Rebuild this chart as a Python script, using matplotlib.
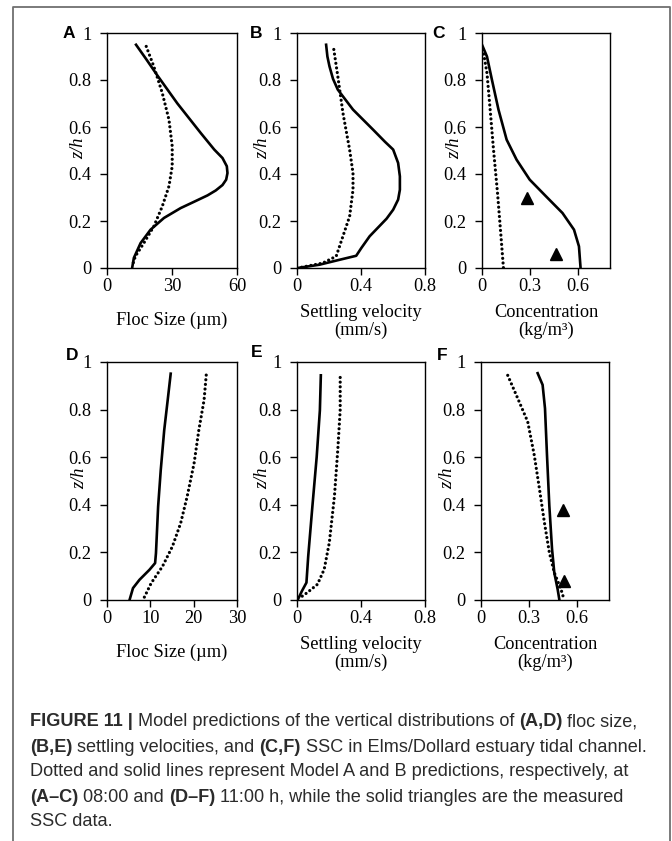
import matplotlib
matplotlib.use("Agg")
import matplotlib.pyplot as plt
from matplotlib.lines import Line2D
from matplotlib.ticker import FuncFormatter

W, H = 672, 841

# vertical position of each profile point (z/h) and the value at it
# panel A - floc size at 08:00
a_solid_x = [13.4, 18.0, 23.2, 32.5, 43.3, 49.5, 53.3, 55.3, 55.6, 55.0, 53.3, 50.2, 46.4,
             40.0, 34.0, 26.3, 20.1, 15.5, 12.4, 11.6]
a_solid_z = [0.95, 0.89, 0.82, 0.70, 0.574, 0.504, 0.468, 0.433, 0.404, 0.376, 0.353, 0.330, 0.309,
             0.281, 0.255, 0.213, 0.163, 0.106, 0.043, 0.0]
a_dot_x = [18.1, 21.6, 25.5, 28.6, 30.1, 30.1, 28.6, 25.5, 21.6, 17.0, 13.1, 11.6]
a_dot_z = [0.943, 0.858, 0.745, 0.631, 0.518, 0.433, 0.348, 0.262, 0.177, 0.106, 0.05, 0.007]

# panel B - settling velocity at 08:00
b_solid_x = [0.182, 0.19, 0.203, 0.225, 0.255, 0.35, 0.475, 0.55, 0.601, 0.632, 0.643, 0.643, 0.632,
             0.601, 0.56, 0.454, 0.402, 0.37, 0.266, 0.14, 0.004]
b_solid_z = [0.95, 0.90, 0.858, 0.805, 0.759, 0.674, 0.589, 0.537, 0.504, 0.447, 0.39, 0.333, 0.291,
             0.248, 0.21, 0.135, 0.085, 0.052, 0.035, 0.014, 0.0]
b_dot_x = [0.23, 0.255, 0.287, 0.329, 0.35, 0.35, 0.329, 0.287, 0.245, 0.161, 0.057, 0.004]
b_dot_z = [0.93, 0.816, 0.66, 0.503, 0.404, 0.333, 0.22, 0.135, 0.05, 0.021, 0.007, 0.0]

# panel C - concentration at 08:00
c_solid_x = [0.0, 0.031, 0.062, 0.103, 0.154, 0.216, 0.298, 0.40, 0.503, 0.575, 0.606, 0.616]
c_solid_z = [0.95, 0.90, 0.801, 0.674, 0.546, 0.461, 0.376, 0.305, 0.234, 0.163, 0.092, 0.0]
c_dot_x = [0.006, 0.031, 0.051, 0.072, 0.097, 0.117, 0.134]
c_dot_z = [0.93, 0.83, 0.674, 0.503, 0.319, 0.149, 0.0]
c_meas_x = [0.28, 0.46]
c_meas_z = [0.30, 0.06]

# panel D - floc size at 11:00
d_solid_x = [14.7, 14.0, 13.2, 12.4, 11.8, 11.3, 11.1, 9.8, 7.5, 6.0, 5.2]
d_solid_z = [0.951, 0.839, 0.713, 0.545, 0.393, 0.197, 0.155, 0.127, 0.085, 0.05, 0.0]
d_dot_x = [22.9, 22.4, 21.2, 20.1, 18.5, 17.0, 15.1, 12.8, 10.2, 8.3]
d_dot_z = [0.945, 0.84, 0.715, 0.575, 0.435, 0.323, 0.225, 0.141, 0.071, 0.0]

# panel E - settling velocity at 11:00
e_solid_x = [0.149, 0.143, 0.123, 0.096, 0.070, 0.059, 0.031, 0.004]
e_solid_z = [0.944, 0.797, 0.601, 0.392, 0.183, 0.073, 0.038, 0.0]
e_dot_x = [0.27, 0.27, 0.255, 0.234, 0.202, 0.17, 0.128, 0.064, 0.02]
e_dot_z = [0.935, 0.8, 0.632, 0.436, 0.241, 0.129, 0.066, 0.031, 0.01]

# panel F - concentration at 11:00
f_solid_x = [0.354, 0.385, 0.40, 0.4125, 0.427, 0.444, 0.458, 0.479, 0.49]
f_solid_z = [0.953, 0.904, 0.805, 0.608, 0.397, 0.214, 0.115, 0.045, 0.0]
f_dot_x = [0.167, 0.229, 0.292, 0.333, 0.365, 0.396, 0.427, 0.458, 0.50, 0.52]
f_dot_z = [0.944, 0.848, 0.749, 0.608, 0.468, 0.327, 0.2, 0.115, 0.045, 0.0]
f_meas_x = [0.515, 0.52]
f_meas_z = [0.38, 0.08]

size_ticks_top = [0, 30, 60]
size_ticks_bot = [0, 10, 20, 30]
vel_ticks = [0, 0.4, 0.8]
conc_ticks = [0, 0.3, 0.6]
z_ticks = [0, 0.2, 0.4, 0.6, 0.8, 1]

size_label = "Floc Size (\u00b5m)"
vel_label = "Settling velocity\n(mm/s)"
conc_label = "Concentration\n(kg/m\u00b3)"

caption = [
    [("FIGURE 11 |", True), (" Model predictions of the vertical distributions of", False),
     ("(A,D)", True), (" floc size,", False)],
    [("(B,E)", True), (" settling velocities, and", False), ("(C,F)", True),
     (" SSC in Elms/Dollard estuary tidal channel.", False)],
    [("Dotted and solid lines represent Model A and B predictions, respectively, at", False)],
    [("(A\u2013C)", True), (" 08:00 and", False), ("(D\u2013F)", True),
     (" 11:00 h, while the solid triangles are the measured", False)],
    [("SSC data.", False)],
]

SERIF = "Liberation Serif"
SANS = "Liberation Sans"
FS = 13.2

fig = plt.figure(figsize=(W / 100, H / 100), dpi=100)


def px_axes(left, top, right, bottom):
    return fig.add_axes([left / W, 1 - bottom / H, (right - left) / W, (bottom - top) / H])


def panel(ax, sx, sz, dx, dz, xmax, xticks, xlabel, zlab_dx, labelpad, mx=None, mz=None):
    ax.plot(sx, sz, color="black", lw=1.9, solid_joinstyle="round")
    ax.plot(dx, dz, color="black", lw=2.3, linestyle=(0, (0.01, 1.45)),
            dash_capstyle="round")
    if mx is not None:
        ax.plot(mx, mz, linestyle="none", marker="^", color="black", markersize=9)
    ax.set_xlim(0, xmax)
    ax.set_ylim(0, 1)
    ax.set_xticks(xticks)
    ax.set_yticks(z_ticks)
    fmt = FuncFormatter(lambda v, p: "%g" % v)
    ax.xaxis.set_major_formatter(fmt)
    ax.yaxis.set_major_formatter(fmt)
    ax.tick_params(direction="out", length=5, width=1, labelsize=FS, pad=2)
    ax.tick_params(axis="y", pad=6)
    for lab in ax.get_xticklabels() + ax.get_yticklabels():
        lab.set_fontfamily(SERIF)
    for sp in ax.spines.values():
        sp.set_linewidth(1.0)
    ax.set_xlabel(xlabel, fontfamily=SERIF, fontsize=FS, labelpad=labelpad, linespacing=1.05)
    w = ax.get_position().width * W
    ax.text(zlab_dx / w, 0.51, "z/h", transform=ax.transAxes, rotation=90,
            fontfamily=SERIF, fontstyle="italic", fontsize=FS, ha="center", va="center")


top, bot = 33, 268
top2, bot2 = 362, 600
axA = px_axes(107, top, 237, bot)
axB = px_axes(297, top, 425, bot)
axC = px_axes(482, top, 610, bot)
axD = px_axes(107, top2, 237, bot2)
axE = px_axes(297, top2, 425, bot2)
axF = px_axes(481, top2, 609, bot2)

panel(axA, a_solid_x, a_solid_z, a_dot_x, a_dot_z, 60, size_ticks_top, size_label, -28, 12)
panel(axB, b_solid_x, b_solid_z, b_dot_x, b_dot_z, 0.8, vel_ticks, vel_label, -34, 7)
panel(axC, c_solid_x, c_solid_z, c_dot_x, c_dot_z, 0.8, conc_ticks, conc_label, -27, 7,
      c_meas_x, c_meas_z)
panel(axD, d_solid_x, d_solid_z, d_dot_x, d_dot_z, 30, size_ticks_bot, size_label, -27, 12)
panel(axE, e_solid_x, e_solid_z, e_dot_x, e_dot_z, 0.8, vel_ticks, vel_label, -34, 7)
panel(axF, f_solid_x, f_solid_z, f_dot_x, f_dot_z, 0.8, conc_ticks, conc_label, -33, 7,
      f_meas_x, f_meas_z)

# panel letters
letters = [("A", 75, 33), ("B", 262, 33), ("C", 445, 33),
           ("D", 78, 355), ("E", 262, 353), ("F", 447, 355)]
for s, x, y in letters:
    fig.text(x / W, 1 - y / H, s, fontfamily=SANS, fontweight="bold", fontsize=12.5,
             ha="right", va="center")

# frame around the figure
frame = dict(color="#6f6f6f", lw=1.3, transform=fig.transFigure)
fig.add_artist(Line2D([13 / W, 13 / W, 670 / W, 670 / W], [0, 1 - 7 / H, 1 - 7 / H, 0], **frame))

# caption, built run by run so the bold parts sit inline;
# a run that follows a run without trailing space gets a small gap
line_y = [722, 747, 772, 797, 822]
for runs, y in zip(caption, line_y):
    last = None
    prev_s = ""
    for s, bold in runs:
        kw = dict(fontfamily=SANS, fontsize=13.1, color="#2b2b2b",
                  fontweight="bold" if bold else "normal")
        if last is None:
            last = fig.text(30 / W, 1 - y / H, s, va="center", ha="left", **kw)
        else:
            gap = 0 if s.startswith(" ") else 3.5
            last = fig.add_artist(plt.Annotation(s, xy=(1, 0), xycoords=last,
                                                 xytext=(gap, 0), textcoords="offset points",
                                                 va="bottom", ha="left", **kw))
        prev_s = s

fig.savefig("out.png", dpi=100)
